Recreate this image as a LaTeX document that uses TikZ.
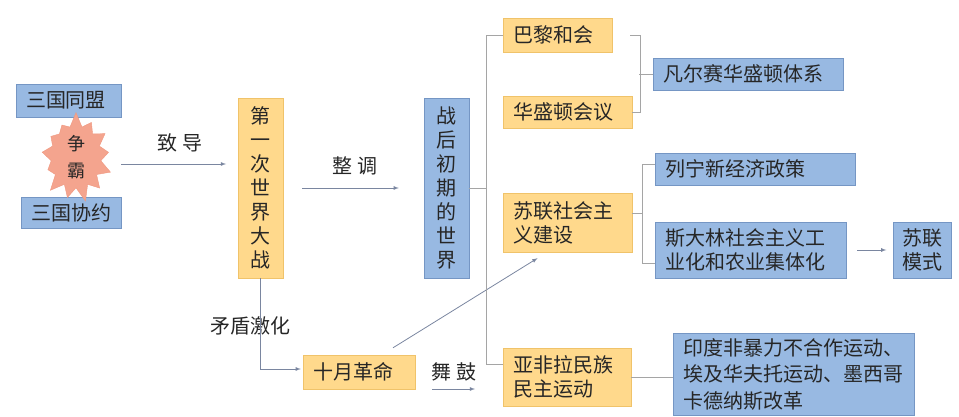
\documentclass[tikz,border=0pt]{standalone}
\usepackage{fontspec}
\newfontfamily\cjk{Noto Sans CJK SC}
\usepackage{tikz}
\usetikzlibrary{shapes.symbols}

\definecolor{orangefill}{HTML}{FFD98C}
\definecolor{orangeline}{HTML}{F0C36A}
\definecolor{bluefill}{HTML}{98B9E2}
\definecolor{blueline}{HTML}{7596C4}
\definecolor{starfill}{HTML}{F4A48E}
\definecolor{starline}{HTML}{EF9880}
\definecolor{textcol}{HTML}{262626}
\definecolor{linecol}{HTML}{A5A5A5}
\definecolor{arrowcol}{HTML}{7A86A0}

\begin{document}
\begin{tikzpicture}[x = 1pt, y = -1pt, >=latex,
    every node/.style = {font = {\cjk\fontsize{20}{24}\selectfont}, text = textcol},
    orangebox/.style = {fill = orangefill, draw = orangeline, inner xsep = 10pt, inner ysep = 0pt, align = left},
    bluebox/.style = {fill = bluefill, draw = blueline, inner xsep = 10pt, inner ysep = 0pt, align = left},
    link/.style = {draw = linecol, thick},
    lead/.style = {draw = arrowcol, thick, ->}]

        \useasboundingbox (0,0) rectangle (959,417);

        % left side
        \node (triple_alliance)[style = bluebox, text width = 85pt, minimum height = 33pt] at ( 68.5,100.5) {三国同盟};
        \node (triple_entente)[style = bluebox, text width = 80pt, minimum height = 31pt] at ( 71,212.5) {三国协约};
        \node (rivalry)[starburst, starburst points = 13, starburst point height = 15pt, random starburst = 7,
        fill = starfill, draw = starline, inner sep = 0pt, minimum width = 80pt, minimum height = 76pt, align = center,
        font = {\cjk\fontsize{18}{27}\selectfont}] at ( 76,157) {争\\霸};

        \node (ww1)[style = orangebox, align = center, text width = 25pt, minimum height = 180pt] at ( 260.5,188)
        {第\\一\\次\\世\\界\\大\\战};
        \node (postwar)[style = bluebox, align = center, text width = 25pt, minimum height = 180pt] at ( 446.5,188)
        {战\\后\\初\\期\\的\\世\\界};
        \node (october)[style = orangebox, text width = 92pt, minimum height = 34pt] at ( 359,372) {十月革命};

        % middle column
        \node (paris)[style = orangebox, text width = 89pt, minimum height = 34pt] at ( 557.5,35) {巴黎和会};
        \node (washington)[style = orangebox, text width = 109pt, minimum height = 32pt] at ( 567.5,112) {华盛顿会议};
        \node (soviet)[style = orangebox, text width = 109pt, minimum height = 59pt] at ( 567.5,222.5) {苏联社会主\\义建设};
        \node (afroasia)[style = orangebox, text width = 108pt, minimum height = 58pt] at ( 567,377) {亚非拉民族\\民主运动};

        % right column
        \node (versailles)[style = bluebox, text width = 170pt, minimum height = 32pt] at ( 748,74) {凡尔赛华盛顿体系};
        \node (nep)[style = bluebox, text width = 180pt, minimum height = 32pt] at ( 755,169) {列宁新经济政策};
        \node (stalin)[style = bluebox, text width = 171pt, minimum height = 56pt] at ( 750.5,250) {斯大林社会主义工\\业化和农业集体化};
        \node (model)[style = bluebox, inner xsep = 9pt, text width = 40pt, minimum height = 56pt] at ( 922.5,250) {苏联\\模式};
        \node (movements)[style = bluebox, text width = 221pt, minimum height = 82pt,
        font = {\cjk\fontsize{20}{26.5}\selectfont}] at ( 793.5,374)
        {印度非暴力不合作运动、\\埃及华夫托运动、墨西哥\\卡德纳斯改革};

        % labels
        \node (lead_label) at ( 180,143) {致 导};
        \node (adjust_label) at ( 355,166) {整 调};
        \node (conflict_label) at ( 250,326) {矛盾激化};
        \node (inspire_label) at ( 454,372) {舞 鼓};

        \coordinate (lead_from) at ( 121,164);
        \coordinate (lead_to) at ( 226,164);
        \coordinate (inspire_from) at ( 432,389);
        \coordinate (inspire_to) at ( 475,389);

        % arrows
        \path (lead_from) edge[lead] (lead_to);
        \path (ww1) edge[lead, shorten <= 19pt, shorten >= 25pt] (postwar);
        \path (ww1.south) edge[lead, shorten >= 2pt, to path = {|- (\tikztotarget)}] ([yshift = 3pt]october.west);
        \path ([xshift = 34pt, yshift = 7pt]october.north) edge[lead] ([xshift = -30pt, yshift = -6pt]soviet.south);
        \path (inspire_from) edge[lead] (inspire_to);
        \path (stalin) edge[lead, shorten <= 11pt, shorten >= 7pt] (model);

        % brackets
        \draw[link] (postwar.east) -- ++(18,0);
        \draw[link] (paris.west) -- ++(-16,0) |- ([yshift = 13pt]afroasia.west);
        \draw[link] ([xshift = 18pt]paris.east) -| ([xshift = 8pt]washington.east) -- (washington.east);
        \draw[link] (versailles.west) -- ++(-14,0);
        \draw[link] ([yshift = 9pt]soviet.east) -- ++(11,0);
        \draw[link] ([yshift = 5pt]nep.west) -- ++(-12,0) |- ([yshift = -13pt]stalin.west);
        \draw[link] (afroasia.east) -- (afroasia.east -| movements.west);
    \end{tikzpicture}
\end{document}
